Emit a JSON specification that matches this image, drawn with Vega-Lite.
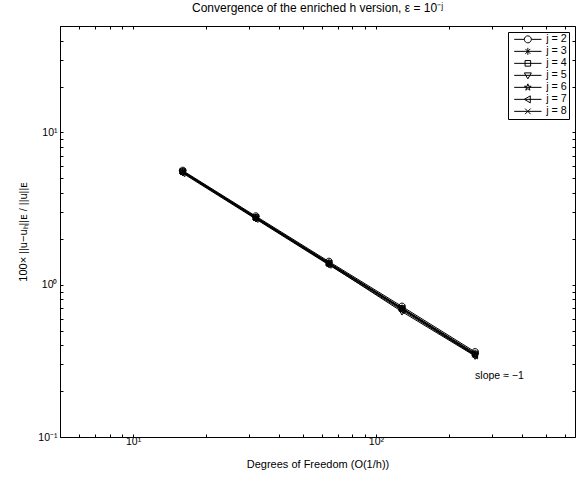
{
  "$schema": "https://vega.github.io/schema/vega-lite/v6.json",
  "width": 515,
  "height": 411,
  "autosize": "none",
  "padding": {"left": 60, "top": 26, "right": 1, "bottom": 40},
  "background": "white",
  "title": {
    "text": "Convergence of the enriched h version, ε = 10⁻ʲ",
    "font": "Liberation Sans",
    "fontSize": 12,
    "fontWeight": "normal",
    "color": "black",
    "offset": 6
  },
  "config": {
    "view": {"stroke": "black", "strokeWidth": 1},
    "font": "Liberation Sans",
    "axis": {
      "domain": false,
      "grid": false,
      "labelFont": "Liberation Sans",
      "labelFontSize": 10.5,
      "labelColor": "black",
      "labelOverlap": false,
      "labelFlush": false,
      "tickColor": "black",
      "tickSize": -3,
      "titleFont": "Liberation Sans",
      "titleFontSize": 11,
      "titleFontWeight": "normal",
      "titleColor": "black"
    }
  },
  "resolve": {"scale": {"shape": "independent"}},
  "datasets": {
    "err": [
      {"dof": 16, "err": 5.62, "series": "j = 2"},
      {"dof": 32, "err": 2.82, "series": "j = 2"},
      {"dof": 64, "err": 1.42, "series": "j = 2"},
      {"dof": 128, "err": 0.72, "series": "j = 2"},
      {"dof": 256, "err": 0.362, "series": "j = 2"},
      {"dof": 16, "err": 5.58, "series": "j = 3"},
      {"dof": 32, "err": 2.79, "series": "j = 3"},
      {"dof": 64, "err": 1.4, "series": "j = 3"},
      {"dof": 128, "err": 0.705, "series": "j = 3"},
      {"dof": 256, "err": 0.355, "series": "j = 3"},
      {"dof": 16, "err": 5.55, "series": "j = 4"},
      {"dof": 32, "err": 2.77, "series": "j = 4"},
      {"dof": 64, "err": 1.39, "series": "j = 4"},
      {"dof": 128, "err": 0.7, "series": "j = 4"},
      {"dof": 256, "err": 0.352, "series": "j = 4"},
      {"dof": 16, "err": 5.45, "series": "j = 5"},
      {"dof": 32, "err": 2.72, "series": "j = 5"},
      {"dof": 64, "err": 1.36, "series": "j = 5"},
      {"dof": 128, "err": 0.665, "series": "j = 5"},
      {"dof": 256, "err": 0.34, "series": "j = 5"},
      {"dof": 16, "err": 5.5, "series": "j = 6"},
      {"dof": 32, "err": 2.75, "series": "j = 6"},
      {"dof": 64, "err": 1.37, "series": "j = 6"},
      {"dof": 128, "err": 0.69, "series": "j = 6"},
      {"dof": 256, "err": 0.345, "series": "j = 6"},
      {"dof": 16, "err": 5.4, "series": "j = 7"},
      {"dof": 32, "err": 2.7, "series": "j = 7"},
      {"dof": 64, "err": 1.35, "series": "j = 7"},
      {"dof": 128, "err": 0.68, "series": "j = 7"},
      {"dof": 256, "err": 0.343, "series": "j = 7"},
      {"dof": 16, "err": 5.52, "series": "j = 8"},
      {"dof": 32, "err": 2.74, "series": "j = 8"},
      {"dof": 64, "err": 1.38, "series": "j = 8"},
      {"dof": 128, "err": 0.695, "series": "j = 8"},
      {"dof": 256, "err": 0.348, "series": "j = 8"}
    ],
    "note": [
      {"dof": 256, "err": 0.25, "label": "slope ≈ −1"}
    ]
  },
  "layer": [
    {
      "data": {"name": "err"},
      "mark": {"type": "line", "color": "black", "strokeWidth": 1},
      "encoding": {
        "x": {
          "field": "dof",
          "type": "quantitative",
          "scale": {"type": "log", "domain": [5, 660], "nice": false},
          "axis": {
            "orient": "bottom",
            "values": [5, 6, 7, 8, 9, 10, 20, 30, 40, 50, 60, 70, 80, 90, 100, 200, 300, 400, 500, 600],
            "labelExpr": "datum.value == 10 ? '10¹' : datum.value == 100 ? '10²' : ''",
            "labelPadding": 2,
            "title": "Degrees of Freedom (O(1/h))",
            "titlePadding": 12,
            "encode": {"ticks": {"update": {"y2": {"signal": "datum.value == 10 || datum.value == 100 ? -5 : -3"}}}}
          }
        },
        "y": {
          "field": "err",
          "type": "quantitative",
          "scale": {"type": "log", "domain": [0.1, 50], "nice": false},
          "axis": {
            "orient": "left",
            "values": [0.1, 0.2, 0.3, 0.4, 0.5, 0.6, 0.7, 0.8, 0.9, 1, 2, 3, 4, 5, 6, 7, 8, 9, 10, 20, 30, 40, 50],
            "labelExpr": "datum.value == 0.1 ? '10⁻¹' : datum.value == 1 ? '10⁰' : datum.value == 10 ? '10¹' : ''",
            "labelPadding": 6,
            "title": "100× ||u−uₕ||ᴇ / ||u||ᴇ",
            "titlePadding": 9,
            "encode": {"ticks": {"update": {"x2": {"signal": "datum.value == 0.1 || datum.value == 1 || datum.value == 10 ? 5 : 3"}}}}
          }
        },
        "detail": {"field": "series"}
      }
    },
    {
      "data": {"name": "err"},
      "mark": {"type": "point", "filled": false, "stroke": "black", "strokeWidth": 1, "size": 45, "opacity": 1},
      "encoding": {
        "x": {
          "field": "dof",
          "type": "quantitative",
          "scale": {"type": "log", "domain": [5, 660], "nice": false},
          "axis": {
            "orient": "top",
            "values": [5, 6, 7, 8, 9, 10, 20, 30, 40, 50, 60, 70, 80, 90, 100, 200, 300, 400, 500, 600],
            "labels": false,
            "title": null,
            "encode": {"ticks": {"update": {"y2": {"signal": "datum.value == 10 || datum.value == 100 ? 5 : 3"}}}}
          }
        },
        "y": {
          "field": "err",
          "type": "quantitative",
          "scale": {"type": "log", "domain": [0.1, 50], "nice": false},
          "axis": {
            "orient": "right",
            "values": [0.1, 0.2, 0.3, 0.4, 0.5, 0.6, 0.7, 0.8, 0.9, 1, 2, 3, 4, 5, 6, 7, 8, 9, 10, 20, 30, 40, 50],
            "labels": false,
            "title": null,
            "encode": {"ticks": {"update": {"x2": {"signal": "datum.value == 0.1 || datum.value == 1 || datum.value == 10 ? -5 : -3"}}}}
          }
        },
        "shape": {
          "field": "series",
          "type": "nominal",
          "scale": {
            "domain": ["j = 2", "j = 3", "j = 4", "j = 5", "j = 6", "j = 7", "j = 8"],
            "range": [
              "M1,0A1,1,0,1,1,-1,0A1,1,0,1,1,1,0Z",
              "M-1,0L1,0M0,-1L0,1M-0.7,-0.7L0.7,0.7M-0.7,0.7L0.7,-0.7",
              "M-0.8,-0.8L0.8,-0.8L0.8,0.8L-0.8,0.8Z",
              "M-1,-0.7L1,-0.7L0,1Z",
              "M0,-1L0.2234,-0.3074L0.9511,-0.309L0.3614,0.1174L0.5878,0.809L0,0.38L-0.5878,0.809L-0.3614,0.1174L-0.9511,-0.309L-0.2234,-0.3074Z",
              "M-1,0L0.7,-1L0.7,1Z",
              "M-0.8,-0.8L0.8,0.8M-0.8,0.8L0.8,-0.8"
            ]
          },
          "legend": null
        }
      }
    },
    {
      "data": {"name": "err"},
      "transform": [{"filter": "datum.dof < 0"}],
      "mark": {"type": "point", "filled": false, "stroke": "black", "strokeWidth": 1, "size": 49},
      "encoding": {
        "x": {"field": "dof", "type": "quantitative", "axis": null},
        "y": {"field": "err", "type": "quantitative", "axis": null},
        "shape": {
          "field": "series",
          "type": "nominal",
          "scale": {
            "domain": ["j = 2", "j = 3", "j = 4", "j = 5", "j = 6", "j = 7", "j = 8"],
            "range": [
              "M-3.9,0L-1,0M1,0L3.9,0M1,0A1,1,0,1,1,-1,0A1,1,0,1,1,1,0Z",
              "M-3.9,0L3.9,0M0,-1L0,1M-0.7,-0.7L0.7,0.7M-0.7,0.7L0.7,-0.7",
              "M-3.9,0L3.9,0M-0.8,-0.8L0.8,-0.8L0.8,0.8L-0.8,0.8Z",
              "M-3.9,0L3.9,0M-1,-0.7L1,-0.7L0,1Z",
              "M-3.9,0L3.9,0M0,-1L0.2234,-0.3074L0.9511,-0.309L0.3614,0.1174L0.5878,0.809L0,0.38L-0.5878,0.809L-0.3614,0.1174L-0.9511,-0.309L-0.2234,-0.3074Z",
              "M-3.9,0L3.9,0M-1,0L0.7,-1L0.7,1Z",
              "M-3.9,0L3.9,0M-0.8,-0.8L0.8,0.8M-0.8,0.8L0.8,-0.8"
            ]
          },
          "legend": {
            "title": null,
            "orient": "top-right",
            "offset": 6,
            "padding": 2,
            "strokeColor": "black",
            "fillColor": "white",
            "cornerRadius": 0,
            "labelFont": "Liberation Sans",
            "labelFontSize": 10.7,
            "labelColor": "#000000",
            "symbolSize": 49,
            "symbolStrokeColor": "black",
            "symbolStrokeWidth": 1,
            "symbolFillColor": "transparent",
            "symbolOpacity": 1,
            "symbolOffset": 12.5,
            "labelOffset": 13,
            "rowPadding": 0
          }
        }
      }
    },
    {
      "data": {"name": "note"},
      "mark": {"type": "text", "align": "left", "baseline": "middle", "fontSize": 10.5, "font": "Liberation Sans", "color": "black"},
      "encoding": {
        "x": {"field": "dof", "type": "quantitative", "axis": null},
        "y": {"field": "err", "type": "quantitative", "axis": null},
        "text": {"field": "label"}
      }
    }
  ]
}
